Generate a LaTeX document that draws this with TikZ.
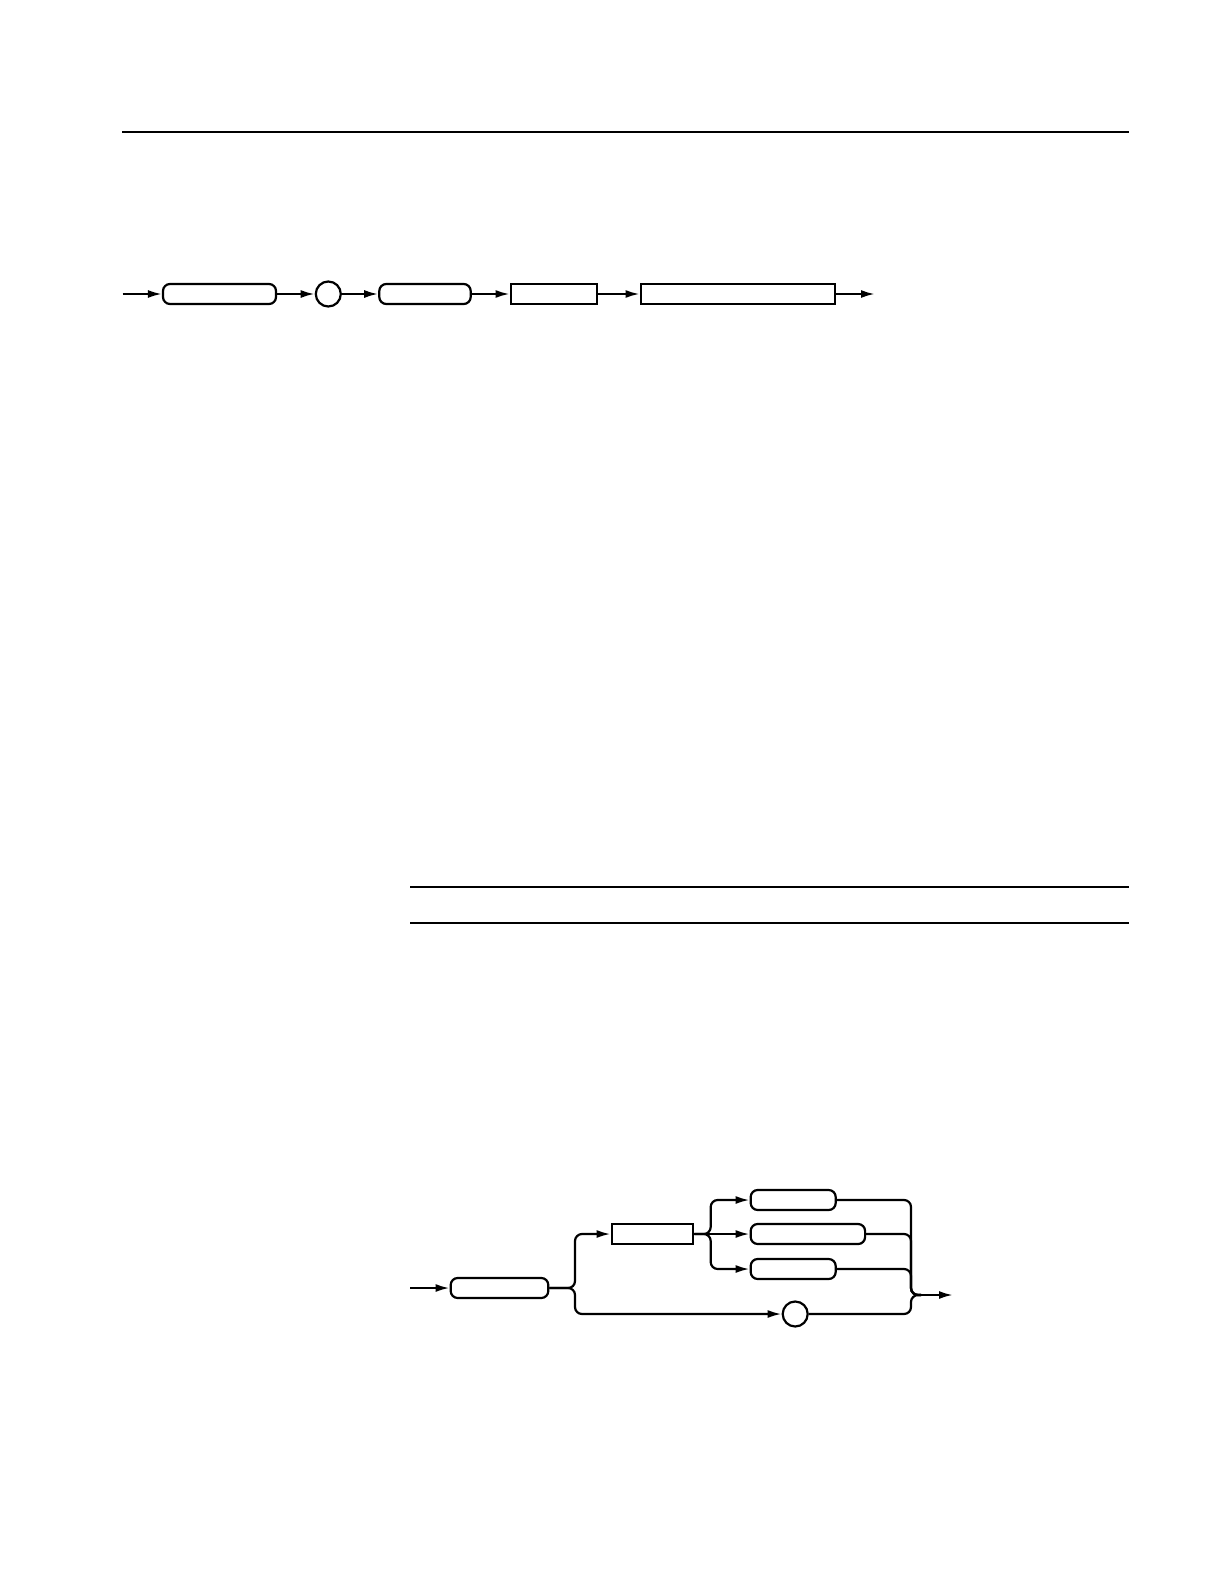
\documentclass[tikz,border=0pt]{standalone}
\usepackage{xcolor}
\usepackage{tikz}
\usetikzlibrary{arrows.meta}
\usetikzlibrary{positioning, shapes.geometric, shapes.misc}
\tikzset{
keyword box/.style = { rectangle, draw = black, fill = white, line width = 1.1pt, minimum height = 10pt, inner sep = 0pt, rounded corners = 3.5pt },
arg box/.style = { rectangle, draw = black, fill = white, line width = 1.1pt, minimum height = 10pt, inner sep = 0pt },
sep dot/.style = { circle, draw = black, fill = white, line width = 1.1pt, minimum size = 12.5pt, inner sep = 0pt },
flow/.style = { draw = black, line width = 1.1pt, -{Latex[length = 7pt, width = 4pt]} },
merge line/.style = { draw = black, line width = 1.1pt, rounded corners = 3.5pt },
page rule/.style = { draw = black, line width = 0.8pt },
}

\begin{document}
\begin{tikzpicture}[x = 0.5pt, y = -0.5pt]
      \useasboundingbox (0, 0) rectangle (1224, 1584);
      % page rules
      \coordinate (r0a) at (122, 132); \coordinate (r0b) at (1129, 132);
      \coordinate (r1a) at (410, 887); \coordinate (r1b) at (1129, 887);
      \coordinate (r2a) at (410, 923); \coordinate (r2b) at (1129, 923);
      \path[page rule] (r0a) -- (r0b);
      \path[page rule] (r1a) -- (r1b);
      \path[page rule] (r2a) -- (r2b);
      % first syntax line
      \coordinate (in1) at (122.7, 294);
      \node[keyword box, minimum width = 56.5pt] (k1) at (219.5, 294) {};
      \node[sep dot] (c1) at (328.3, 294) {};
      \node[keyword box, minimum width = 45.7pt] (k2) at (425, 294) {};
      \node[arg box, minimum width = 43.3pt] (a1) at (554, 294) {};
      \node[arg box, minimum width = 97.3pt] (a2) at (738, 294) {};
      \coordinate (out1) at (875, 294);
      \path[flow] (in1) -- (k1);
      \path[flow] (k1) -- (c1);
      \path[flow] (c1) -- (k2);
      \path[flow] (k2) -- (a1);
      \path[flow] (a1) -- (a2);
      \path[flow] (a2) -- (out1);
      % second syntax line
      \coordinate (in2) at (410, 1288);
      \node[keyword box, minimum width = 48.8pt] (kA) at (499.5, 1288) {};
      \coordinate (s1) at (575, 1288);
      \node[arg box, minimum width = 40.8pt] (aB) at (652.5, 1234) {};
      \coordinate (s2) at (710.7, 1234);
      \node[keyword box, minimum width = 42.5pt] (kC1) at (793.2, 1200) {};
      \node[keyword box, minimum width = 57.2pt] (kC2) at (807.9, 1234) {};
      \node[keyword box, minimum width = 42.5pt] (kC3) at (793.2, 1269) {};
      \node[sep dot] (c2) at (795.2, 1314) {};
      \coordinate (col) at (911, 1295);
      \coordinate (j2) at (921, 1295);
      \coordinate (out2) at (953, 1295);
      \path[flow] (in2) -- (kA);
      \path[flow, merge line] (kA.east) -- (s1) |- (aB.west);
      \path[flow, merge line] (kA.east) -- (s1) |- (c2.west);
      \path[flow, merge line] (aB.east) -- (s2) |- (kC1.west);
      \path[flow] (aB.east) -- (kC2.west);
      \path[flow, merge line] (aB.east) -- (s2) |- (kC3.west);
      \path[merge line] (kC1.east) -| (col) -- (j2);
      \path[merge line] (kC2.east) -| (col) -- (j2);
      \path[merge line] (kC3.east) -| (col) -- (j2);
      \path[merge line] (c2.east) -| (col) -- (j2);
      \path[flow] (j2) -- (out2);
\end{tikzpicture}
\end{document}
